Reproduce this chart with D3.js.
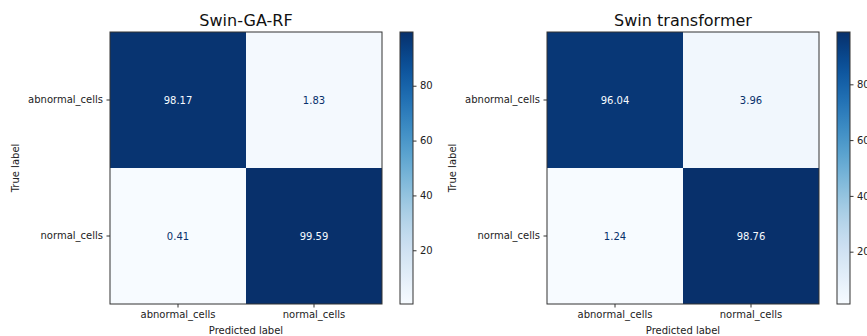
<!DOCTYPE html>
<html>
<head>
<meta charset="utf-8">
<script src="https://cdn.jsdelivr.net/npm/d3@7"></script>
<style>
  html, body { margin: 0; padding: 0; background: #fff; }
  svg { display: block; font-family: "DejaVu Sans", sans-serif; }
</style>
</head>
<body>
<svg id="chart" width="867" height="336"></svg>
<script>
// Class names shared by both confusion matrices
const classes = ["abnormal_cells", "normal_cells"];

// Panel titles
const titles = ["Swin-GA-RF", "Swin transformer"];

// Normalised confusion matrices (percent), rows = true label, columns = predicted label
const swinGaRf = [
  [98.17, 1.83],
  [0.41, 99.59]
];
const swinTransformer = [
  [96.04, 3.96],
  [1.24, 98.76]
];

// Colour bar tick values
const colorbarTicks = [20, 40, 60, 80];

const matrices = [swinGaRf, swinTransformer];

const svg = d3.select("#chart");
const defs = svg.append("defs");

const size = 272;          // matrix side length
const marginTop = 32;
const panelLeft = [110, 547];
const cbarGap = 18;        // space between matrix and colour bar
const cbarW = 13;
const tickLen = 3.5;
const frame = "#333";

matrices.forEach((m, p) => {
  const x0 = panelLeft[p];
  const flat = m.flat();
  const vmin = d3.min(flat), vmax = d3.max(flat);
  const color = d3.scaleSequential(d3.interpolateBlues).domain([vmin, vmax]);
  const thresh = (vmin + vmax) / 2;

  const g = svg.append("g").attr("transform", `translate(${x0},${marginTop})`);

  const x = d3.scaleBand().domain(classes).range([0, size]);
  const y = d3.scaleBand().domain(classes).range([0, size]);

  // Cells
  const cells = [];
  m.forEach((row, i) => row.forEach((v, j) => cells.push({ t: classes[i], pr: classes[j], v })));

  g.selectAll("rect.cell")
    .data(cells)
    .join("rect")
    .attr("class", "cell")
    .attr("x", d => x(d.pr))
    .attr("y", d => y(d.t))
    .attr("width", x.bandwidth())
    .attr("height", y.bandwidth())
    .attr("fill", d => color(d.v));

  g.selectAll("text.val")
    .data(cells)
    .join("text")
    .attr("class", "val")
    .attr("x", d => x(d.pr) + x.bandwidth() / 2)
    .attr("y", d => y(d.t) + y.bandwidth() / 2)
    .attr("text-anchor", "middle")
    .attr("dominant-baseline", "central")
    .attr("font-size", 10)
    .attr("fill", d => d.v < thresh ? d3.interpolateBlues(1) : d3.interpolateBlues(0))
    .text(d => d3.format(".2f")(d.v));

  // Frame
  g.append("rect")
    .attr("width", size).attr("height", size)
    .attr("fill", "none").attr("stroke", frame).attr("stroke-width", 1);

  // Axes
  const xAxis = d3.axisBottom(x).tickSize(tickLen).tickPadding(3.5);
  const yAxis = d3.axisLeft(y).tickSize(tickLen).tickPadding(3.5);

  const gx = g.append("g").attr("transform", `translate(0,${size})`).call(xAxis);
  const gy = g.append("g").call(yAxis);
  [gx, gy].forEach(a => {
    a.select(".domain").remove();
    a.selectAll("line").attr("stroke", frame);
    a.selectAll("text").attr("font-size", 10).attr("fill", "#222")
      .attr("font-family", "DejaVu Sans, sans-serif");
  });

  // Axis titles
  g.append("text")
    .attr("x", size / 2).attr("y", size + 29.5)
    .attr("text-anchor", "middle").attr("font-size", 10).attr("fill", "#222")
    .text("Predicted label");

  g.append("text")
    .attr("transform", `translate(${-95},${size / 2}) rotate(-90)`)
    .attr("text-anchor", "middle").attr("dominant-baseline", "central")
    .attr("font-size", 10).attr("fill", "#222")
    .text("True label");

  // Title
  g.append("text")
    .attr("x", size / 2).attr("y", -6)
    .attr("text-anchor", "middle").attr("font-size", 16).attr("fill", "#111")
    .text(titles[p]);

  // Colour bar
  const gradId = "cbar" + p;
  const grad = defs.append("linearGradient")
    .attr("id", gradId).attr("x1", 0).attr("y1", 1).attr("x2", 0).attr("y2", 0);
  d3.range(0, 1.0001, 0.05).forEach(t => {
    grad.append("stop").attr("offset", t).attr("stop-color", d3.interpolateBlues(t));
  });

  const cb = svg.append("g").attr("transform", `translate(${x0 + size + cbarGap},${marginTop})`);
  cb.append("rect")
    .attr("width", cbarW).attr("height", size)
    .attr("fill", `url(#${gradId})`)
    .attr("stroke", frame).attr("stroke-width", 1);

  const cScale = d3.scaleLinear().domain([vmin, vmax]).range([size, 0]);
  const cAxis = d3.axisRight(cScale).tickValues(colorbarTicks).tickSize(tickLen).tickPadding(3.5);
  const ga = cb.append("g").attr("transform", `translate(${cbarW},0)`).call(cAxis);
  ga.select(".domain").remove();
  ga.selectAll("line").attr("stroke", frame);
  ga.selectAll("text").attr("font-size", 10).attr("fill", "#222")
    .attr("font-family", "DejaVu Sans, sans-serif");
});
</script>
</body>
</html>
